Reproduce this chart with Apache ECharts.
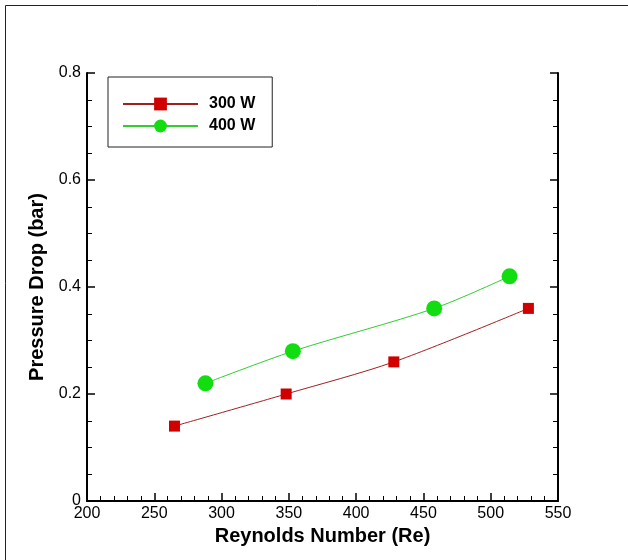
<!DOCTYPE html>
<html>
<head>
<meta charset="utf-8">
<script src="https://cdn.jsdelivr.net/npm/echarts@6/dist/echarts.min.js"></script>
<style>html,body{margin:0;padding:0;background:#fff}#c{width:628px;height:560px}</style>
</head>
<body>
<div id="c"></div>
<script>
const re300 = [265, 348, 428, 528];
const dp300 = [0.14, 0.20, 0.26, 0.36];
const re400 = [288, 353, 458, 514];
const dp400 = [0.22, 0.28, 0.36, 0.42];
const seriesNames = ['300 W', '400 W'];
const xTitle = 'Reynolds Number (Re)';
const yTitle = 'Pressure Drop (bar)';

const font = 'Liberation Sans, Arial, sans-serif';
const chart = echarts.init(document.getElementById('c'), null, {renderer: 'canvas'});
const pairs = (xs, ys) => xs.map((x, i) => [x, ys[i]]);
chart.setOption({
  animation: false,
  backgroundColor: '#fff',
  graphic: [{
    type: 'rect', shape: {x: 5.5, y: 5.5, width: 700, height: 700},
    style: {fill: 'none', stroke: '#222', lineWidth: 1}, silent: true, z: -1
  }],
  grid: {left: 87, right: 70, top: 73, bottom: 59},
  legend: {
    orient: 'vertical', left: 108, top: 77,
    padding: [19, 17, 13, 14],
    itemWidth: 75, itemHeight: 16, itemGap: 6,
    borderColor: '#222', borderWidth: 1,
    textStyle: {fontFamily: font, fontWeight: 'bold', fontSize: 16, color: '#000', padding: [0, 0, 0, 6]},
    data: seriesNames
  },
  xAxis: {
    type: 'value', min: 200, max: 550, interval: 50,
    name: xTitle, nameLocation: 'middle', nameGap: 20,
    nameTextStyle: {fontFamily: font, fontWeight: 'bold', fontSize: 20, color: '#000'},
    axisLine: {show: true, lineStyle: {color: '#000', width: 2}},
    axisTick: {show: true, inside: true, length: 8, lineStyle: {color: '#000', width: 1.5}},
    minorTick: {show: true, splitNumber: 5, length: 5, lineStyle: {color: '#000', width: 1}},
    axisLabel: {fontFamily: font, fontSize: 16, color: '#000', margin: 5},
    splitLine: {show: false}
  },
  yAxis: [{
    type: 'value', min: 0, max: 0.8, interval: 0.2,
    name: yTitle, nameLocation: 'middle', nameGap: 35,
    nameTextStyle: {fontFamily: font, fontWeight: 'bold', fontSize: 20, color: '#000'},
    axisLine: {show: true, lineStyle: {color: '#000', width: 2}},
    axisTick: {show: true, inside: true, length: 8, lineStyle: {color: '#000', width: 1.5}},
    minorTick: {show: true, splitNumber: 4, length: 5, lineStyle: {color: '#000', width: 1}},
    axisLabel: {fontFamily: font, fontSize: 16, color: '#000', margin: 6,
      formatter: v => v === 0 ? '0' : v.toFixed(1)},
    splitLine: {show: false}
  }, {
    type: 'value', min: 0, max: 0.8, interval: 0.2, position: 'right',
    axisLine: {show: true, lineStyle: {color: '#000', width: 2}},
    axisTick: {show: true, inside: true, length: 8, lineStyle: {color: '#000', width: 1.5}},
    minorTick: {show: true, splitNumber: 4, length: 5, lineStyle: {color: '#000', width: 1}},
    axisLabel: {show: false},
    splitLine: {show: false}
  }],
  series: [{
    name: seriesNames[0], type: 'line', data: pairs(re300, dp300),
    smooth: 0.3, symbol: 'rect', symbolSize: 11,
    lineStyle: {color: '#a02020', width: 1},
    itemStyle: {color: '#d00000'}
  }, {
    name: seriesNames[1], type: 'line', data: pairs(re400, dp400),
    smooth: 0.3, symbol: 'circle', symbolSize: 16,
    lineStyle: {color: '#33cc33', width: 1},
    itemStyle: {color: '#11dd11'}
  }]
});
</script>
</body>
</html>
